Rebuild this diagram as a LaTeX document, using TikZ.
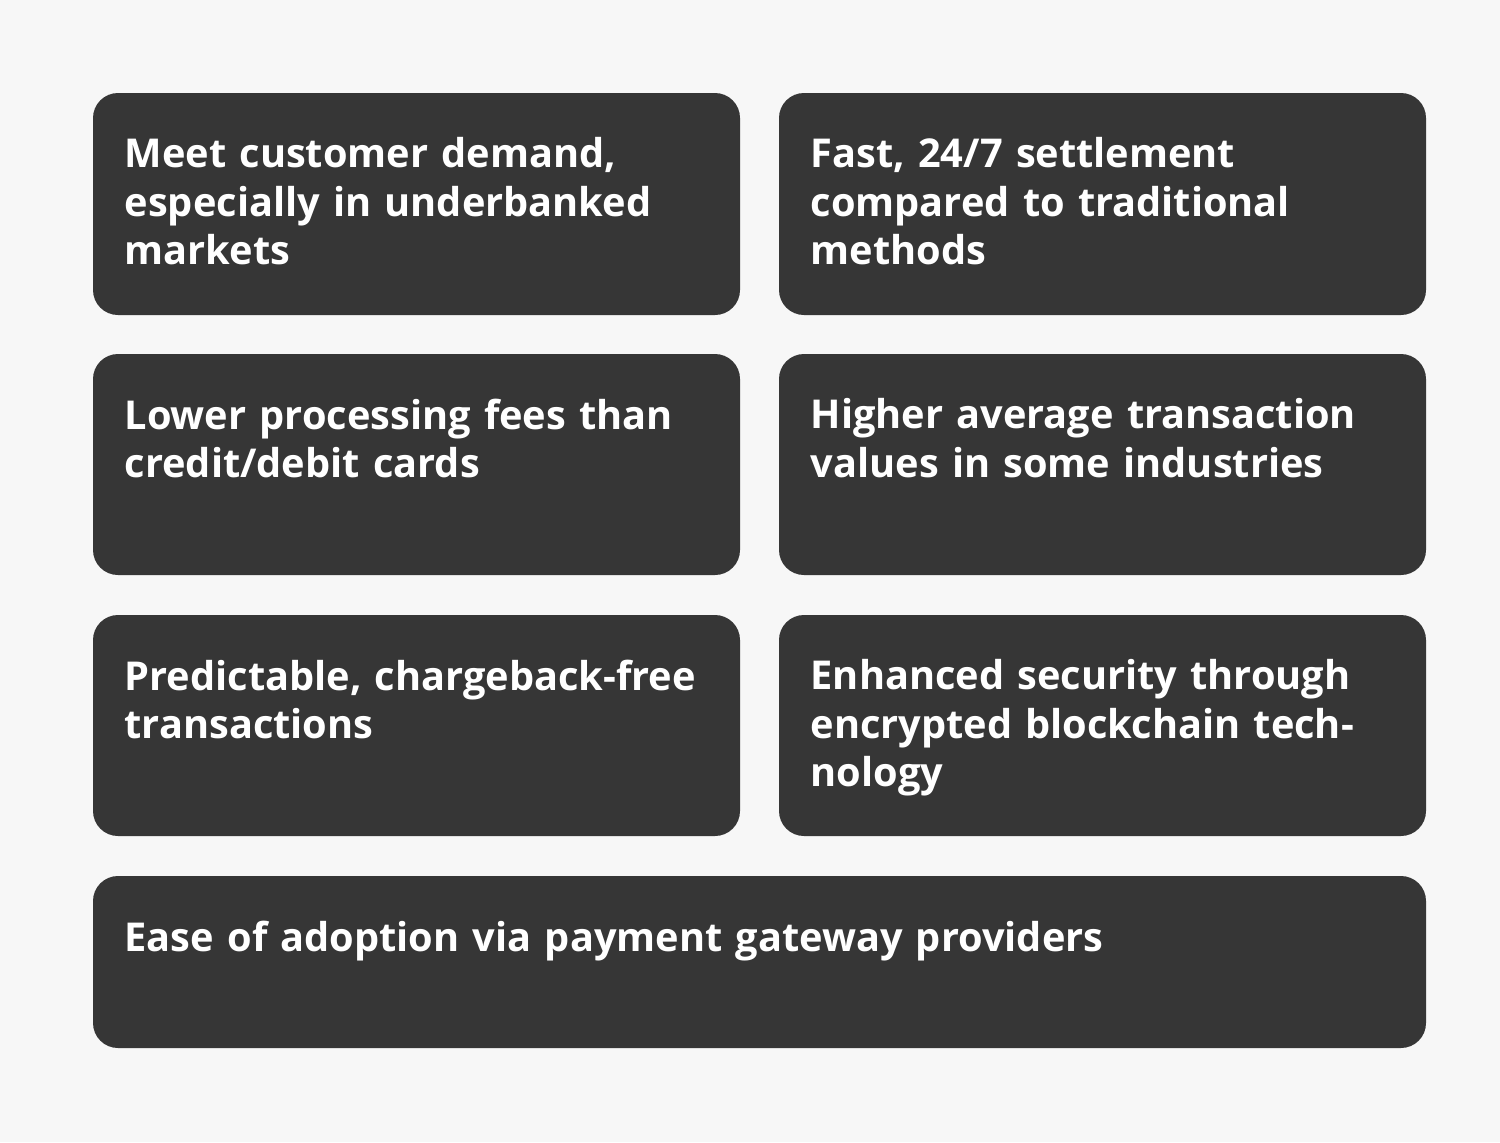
\documentclass[tikz,border=0pt]{standalone}
\usepackage{fontspec}
\setmainfont{Open Sans}
\definecolor{pagebg}{HTML}{F7F7F7}
\definecolor{boxfill}{HTML}{363636}
\tikzset{
  cardbox/.style={fill=boxfill, rounded corners=0.25cm},
  cardtext/.style={anchor=north west, inner sep=0pt, text=white, align=left,
    font=\fontsize{11.3}{13.7}\selectfont\bfseries, text width=#1},
  cardtext/.default=5.9cm
}
\begin{document}
\begin{tikzpicture}[x=0.01cm, y=-0.01cm]
    % Background
    \fill [pagebg] (0, 0) rectangle (1500, 1142);
    \useasboundingbox (0, 0) rectangle (1500, 1142);
    % Cards
    \fill [cardbox] (93, 93) rectangle (740, 315);
    \fill [cardbox] (779, 93) rectangle (1426, 315);
    \fill [cardbox] (93, 354) rectangle (740, 575);
    \fill [cardbox] (779, 354) rectangle (1426, 575);
    \fill [cardbox] (93, 615) rectangle (740, 836);
    \fill [cardbox] (779, 615) rectangle (1426, 836);
    \fill [cardbox] (93, 876) rectangle (1426, 1048);
    % Labels
    \node [cardtext] (demand) at (124, 137) {Meet customer demand, especially in underbanked markets};
    \node [cardtext] (settle) at (810, 137) {Fast, 24/7 settlement\\compared to traditional\\methods};
    \node [cardtext] (fees) at (124, 398) {Lower processing fees than credit/debit cards};
    \node [cardtext] (values) at (810, 398) {Higher average transaction values in some industries};
    \node [cardtext] (chargeback) at (124, 659) {Predictable, chargeback-free transactions};
    \node [cardtext] (security) at (810, 659) {Enhanced security through encrypted blockchain technology};
    \node [cardtext=12cm] (adoption) at (124, 920) {Ease of adoption via payment gateway providers};
\end{tikzpicture}
\end{document}
